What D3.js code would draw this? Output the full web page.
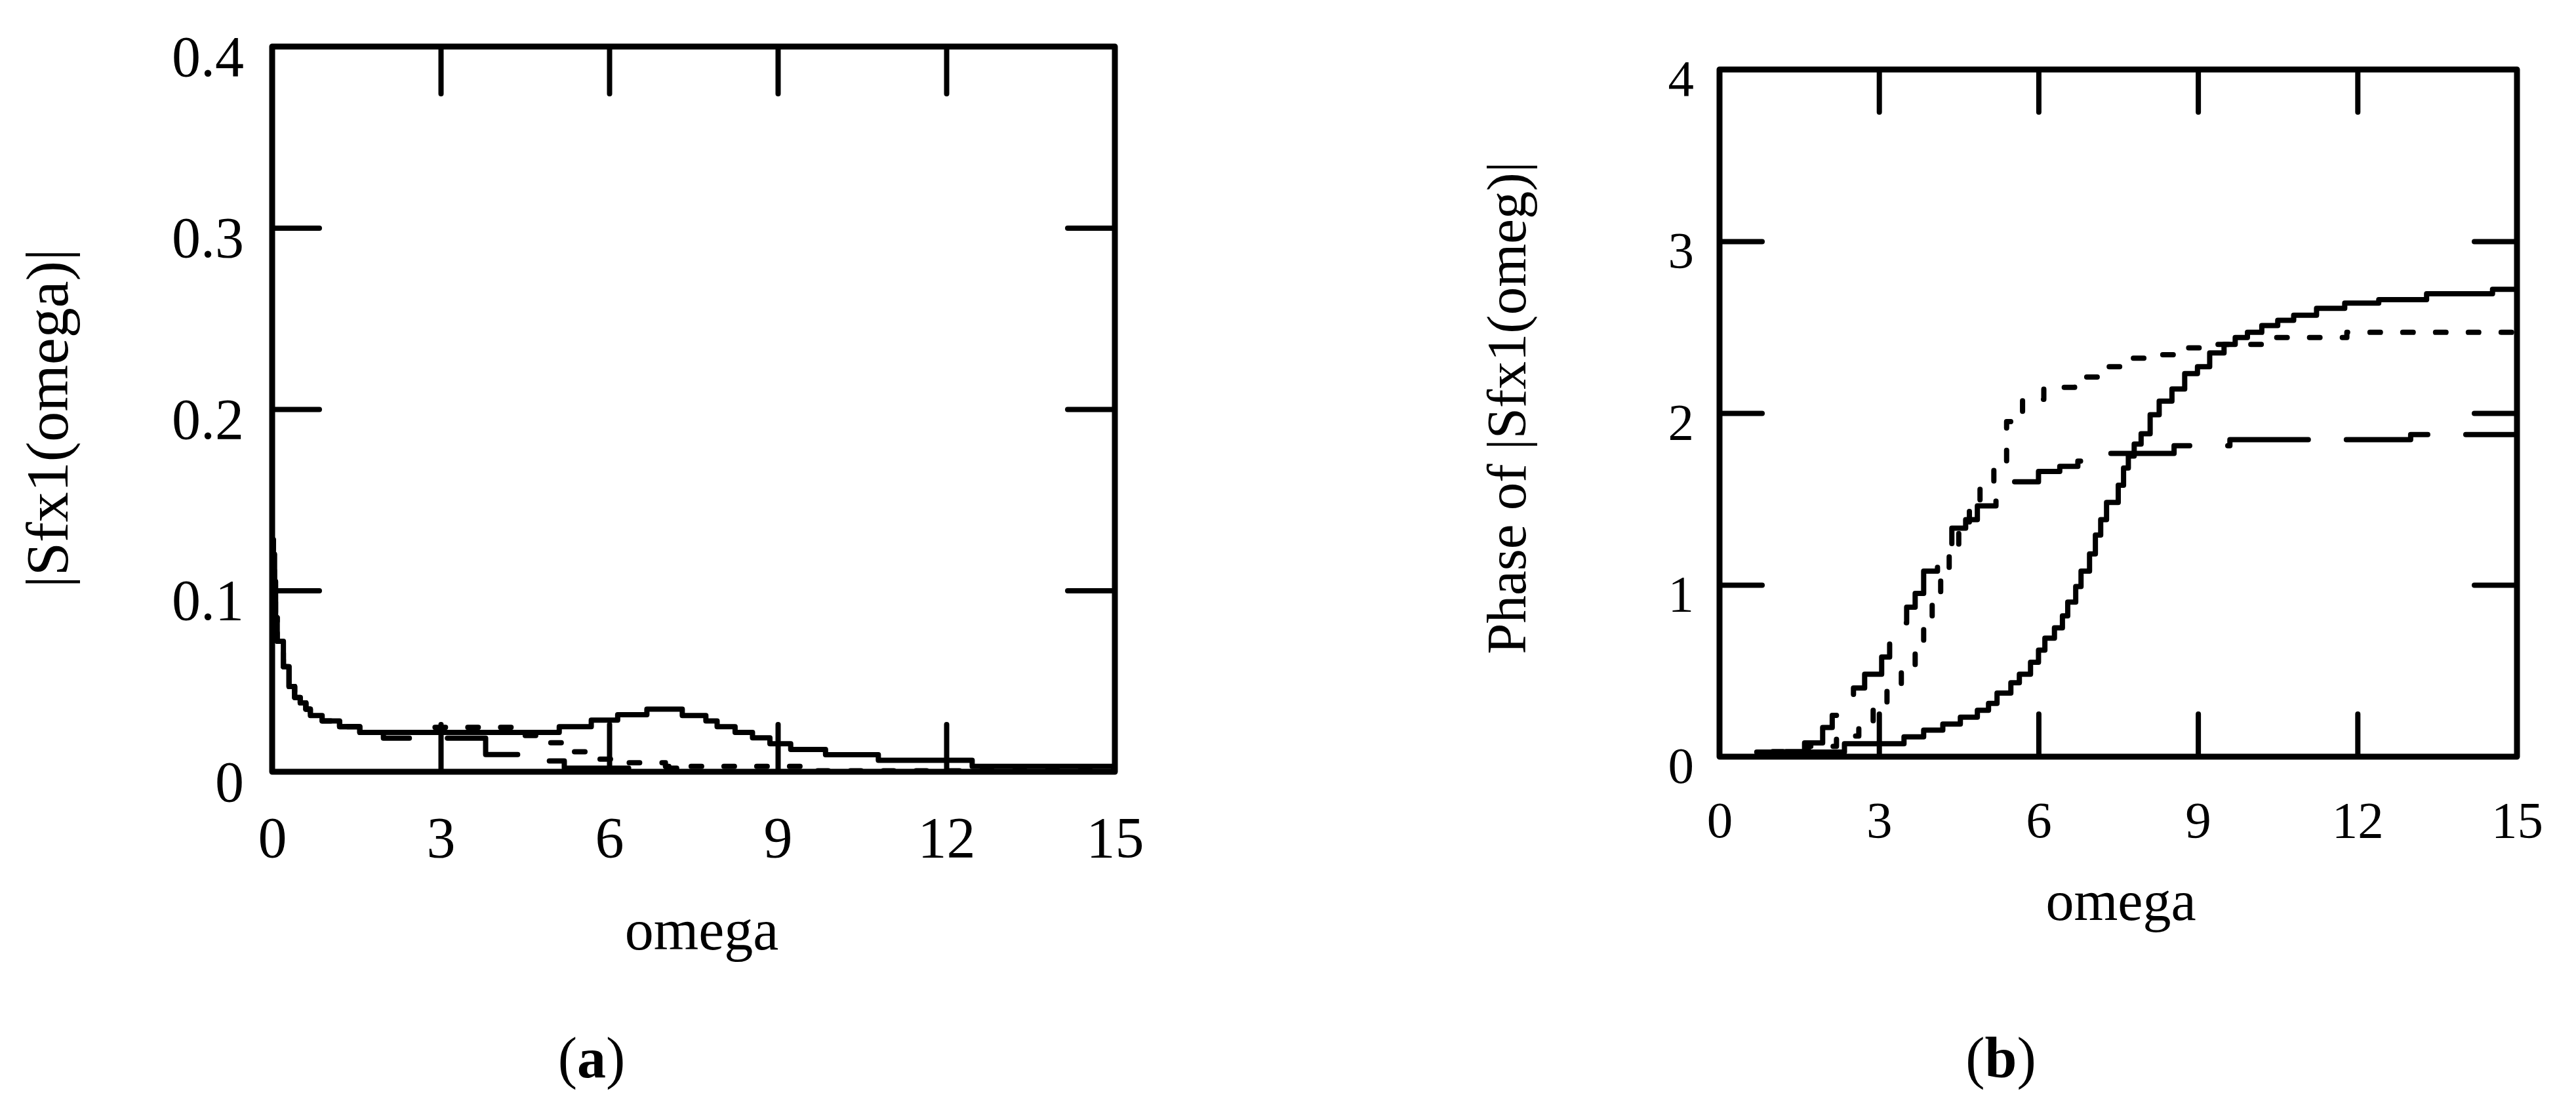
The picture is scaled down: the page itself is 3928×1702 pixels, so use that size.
<!DOCTYPE html>
<html>
<head>
<meta charset="utf-8">
<script src="https://cdn.jsdelivr.net/npm/d3@7"></script>
<style>
  body { margin: 0; background: #fff; }
  text { font-family: "Liberation Serif", "Times New Roman", serif; fill: #000; }
</style>
</head>
<body>
<svg id="chart" width="3928" height="1702"></svg>
<script>
// ---------------- DATA ----------------
// Panel (a): |Sfx1(omega)|
const xTickLabelsA = ["0", "3", "6", "9", "12", "15"];
const xTickValsA = [0, 3, 6, 9, 12, 15];
const yTickLabelsA = ["0", "0.1", "0.2", "0.3", "0.4"];
const yTickValsA = [0, 0.1, 0.2, 0.3, 0.4];

const solidA_omega = [0, 0.02, 0.04, 0.06, 0.09, 0.2, 0.3, 0.4, 0.5, 0.6, 0.68, 0.89, 1.2, 1.56, 5.11, 5.68, 6.15, 6.67, 7.3, 7.72, 7.92, 8.24, 8.55, 8.86, 9.23, 9.85, 10.79, 12.46, 15];
const solidA_value = [0.128, 0.12, 0.105, 0.085, 0.072, 0.058, 0.047, 0.041, 0.038, 0.0345, 0.031, 0.028, 0.0249, 0.0217, 0.0249, 0.0285, 0.0315, 0.0345, 0.031, 0.028, 0.0249, 0.0217, 0.0187, 0.0155, 0.0123, 0.0094, 0.0063, 0.003, 0.003];

const dottedA_omega = [0, 0.02, 0.04, 0.06, 0.09, 0.2, 0.3, 0.4, 0.5, 0.6, 0.68, 0.89, 1.2, 1.56, 2.6, 4.3, 4.8, 5.3, 5.7, 6.3, 7.0, 9.7, 15];
const dottedA_value = [0.128, 0.12, 0.105, 0.085, 0.072, 0.058, 0.047, 0.041, 0.038, 0.0345, 0.031, 0.028, 0.0249, 0.0217, 0.0245, 0.02, 0.016, 0.011, 0.007, 0.005, 0.003, 0.0005, 0.0005];

const dashedA_omega = [0, 0.02, 0.04, 0.06, 0.09, 0.2, 0.3, 0.4, 0.5, 0.6, 0.68, 0.89, 1.2, 1.56, 1.98, 3.8, 4.4, 5.2, 7.2, 15];
const dashedA_value = [0.128, 0.12, 0.105, 0.085, 0.072, 0.058, 0.047, 0.041, 0.038, 0.0345, 0.031, 0.028, 0.0249, 0.0217, 0.0185, 0.0095, 0.006, 0.002, 0, 0];

// Panel (b): Phase of |Sfx1(omeg)|
const xTickLabelsB = ["0", "3", "6", "9", "12", "15"];
const xTickValsB = [0, 3, 6, 9, 12, 15];
const yTickLabelsB = ["0", "1", "2", "3", "4"];
const yTickValsB = [0, 1, 2, 3, 4];

const solidB_omega = [0.7, 2.35, 3.47, 3.84, 4.2, 4.53, 4.85, 5.06, 5.22, 5.48, 5.64, 5.85, 6.0, 6.12, 6.3, 6.45, 6.55, 6.7, 6.8, 6.96, 7.07, 7.17, 7.28, 7.5, 7.6, 7.69, 7.8, 7.93, 8.1, 8.27, 8.51, 8.75, 8.99, 9.22, 9.49, 9.7, 9.93, 10.2, 10.5, 10.8, 11.23, 11.76, 12.4, 13.3, 14.54, 15];
const solidB_value = [0.027, 0.075, 0.115, 0.155, 0.19, 0.23, 0.27, 0.31, 0.37, 0.43, 0.48, 0.55, 0.62, 0.69, 0.75, 0.82, 0.9, 0.99, 1.08, 1.18, 1.29, 1.38, 1.48, 1.58, 1.68, 1.75, 1.82, 1.88, 1.99, 2.07, 2.14, 2.23, 2.27, 2.35, 2.40, 2.44, 2.47, 2.51, 2.54, 2.57, 2.61, 2.64, 2.66, 2.695, 2.72, 2.72];

const dottedB_omega = [1.0, 1.67, 2.2, 2.62, 2.89, 3.15, 3.42, 3.68, 3.84, 4.0, 4.16, 4.32, 4.5, 4.7, 4.9, 5.16, 5.4, 5.7, 6.1, 6.68, 7.16, 7.57, 8.1, 8.63, 9.16, 10.2, 11.8, 15];
const dottedB_value = [0.03, 0.06, 0.12, 0.2, 0.3, 0.39, 0.52, 0.62, 0.77, 0.89, 1.03, 1.18, 1.3, 1.45, 1.58, 1.72, 1.95, 2.08, 2.15, 2.21, 2.27, 2.32, 2.34, 2.38, 2.40, 2.44, 2.47, 2.47];

const dashedB_omega = [1.25, 1.6, 1.94, 2.12, 2.31, 2.52, 2.73, 3.05, 3.2, 3.37, 3.52, 3.68, 3.84, 4.1, 4.37, 4.63, 4.85, 5.2, 5.48, 6.0, 6.4, 6.74, 7.03, 8.55, 9.6, 13.0, 15];
const dashedB_value = [0.03, 0.08, 0.17, 0.24, 0.32, 0.4, 0.48, 0.58, 0.68, 0.78, 0.87, 0.95, 1.08, 1.22, 1.33, 1.38, 1.46, 1.56, 1.6, 1.66, 1.69, 1.72, 1.765, 1.81, 1.845, 1.875, 1.875];

// ---------------- DRAWING ----------------
const svg = d3.select("#chart");
svg.append("rect").attr("width", 3928).attr("height", 1702).attr("fill", "#fff");

const DOTTED = "16,34";
const DASHED = "132,58";

function drawPanel(cfg) {
  const g = svg.append("g");
  const x = cfg.x, y = cfg.y;
  const [x0, x1] = x.range();
  const [y0, y1] = y.range(); // y0 bottom, y1 top

  // curves
  cfg.series.forEach(s => {
    const line = d3.line()
      .x(d => x(d[0]))
      .y(d => y(d[1]))
      .curve(cfg.curve);
    g.append("path")
      .datum(d3.zip(s.omega, s.value))
      .attr("d", line)
      .attr("fill", "none")
      .attr("stroke", "#000")
      .attr("stroke-width", 8)
      .attr("stroke-linecap", "round")
      .attr("stroke-linejoin", "round")
      .attr("stroke-dasharray", s.dash || null);
  });

  // inward ticks (interior values only) on all four sides
  const styleTicks = sel => {
    sel.select(".domain").remove();
    sel.selectAll(".tick line")
      .attr("stroke", "#000")
      .attr("stroke-width", 8)
      .attr("stroke-linecap", "round");
    sel.selectAll(".tick text").remove();
  };
  g.append("g").attr("transform", `translate(0,${y0})`)
    .call(d3.axisBottom(x).tickValues(cfg.xInner).tickSize(-cfg.tickLen).tickFormat(""))
    .call(styleTicks);
  g.append("g").attr("transform", `translate(0,${y1})`)
    .call(d3.axisTop(x).tickValues(cfg.xInner).tickSize(-cfg.tickLen).tickFormat(""))
    .call(styleTicks);
  g.append("g").attr("transform", `translate(${x0},0)`)
    .call(d3.axisLeft(y).tickValues(cfg.yInner).tickSize(-cfg.tickLen).tickFormat(""))
    .call(styleTicks);
  g.append("g").attr("transform", `translate(${x1},0)`)
    .call(d3.axisRight(y).tickValues(cfg.yInner).tickSize(-cfg.tickLen).tickFormat(""))
    .call(styleTicks);

  // frame
  g.append("rect")
    .attr("x", x0).attr("y", y1)
    .attr("width", x1 - x0).attr("height", y0 - y1)
    .attr("fill", "none")
    .attr("stroke", "#000")
    .attr("stroke-width", 9)
    .attr("stroke-linejoin", "round");

  // tick labels
  const xl = g.append("g").attr("transform", `translate(0,${y0})`)
    .call(d3.axisBottom(x).tickValues(cfg.xTickVals).tickSize(0)
      .tickFormat((d, i) => cfg.xTickLabels[i]));
  xl.select(".domain").remove();
  xl.selectAll(".tick text")
    .attr("y", cfg.xLabelOffset).attr("dy", null)
    .attr("font-size", cfg.tickFont)
    .attr("font-family", "Liberation Serif")
    .attr("fill", "#000");

  const yl = g.append("g").attr("transform", `translate(${x0},0)`)
    .call(d3.axisLeft(y).tickValues(cfg.yTickVals).tickSize(0)
      .tickFormat((d, i) => cfg.yTickLabels[i]));
  yl.select(".domain").remove();
  yl.selectAll(".tick text")
    .attr("x", cfg.yLabelX).attr("dy", null)
    .attr("y", cfg.yLabelOffset)
    .attr("font-size", cfg.tickFont)
    .attr("font-family", "Liberation Serif")
    .attr("fill", "#000");

  // axis titles
  g.append("text")
    .attr("x", cfg.xTitle[0]).attr("y", cfg.xTitle[1])
    .attr("text-anchor", "middle")
    .attr("font-size", cfg.titleFont)
    .text("omega");
  g.append("text")
    .attr("transform", `translate(${cfg.yTitle[0]},${cfg.yTitle[1]}) rotate(-90)`)
    .attr("text-anchor", "middle")
    .attr("font-size", cfg.yTitleFont)
    .text(cfg.yTitleText);

  // panel caption
  const cap = g.append("text")
    .attr("x", cfg.caption[0]).attr("y", cfg.caption[1])
    .attr("text-anchor", "middle")
    .attr("font-size", 88);
  cap.append("tspan").text("(");
  cap.append("tspan").attr("font-weight", "bold").text(cfg.captionLetter);
  cap.append("tspan").text(")");
}

drawPanel({
  x: d3.scaleLinear().domain([0, 15]).range([415, 1700]),
  y: d3.scaleLinear().domain([0, 0.4]).range([1177, 71]),
  curve: d3.curveStepAfter,
  series: [
    { omega: solidA_omega, value: solidA_value },
    { omega: dottedA_omega, value: dottedA_value, dash: DOTTED },
    { omega: dashedA_omega, value: dashedA_value, dash: DASHED }
  ],
  xInner: [3, 6, 9, 12],
  yInner: [0.1, 0.2, 0.3],
  tickLen: 72,
  xTickVals: xTickValsA, xTickLabels: xTickLabelsA,
  yTickVals: yTickValsA, yTickLabels: yTickLabelsA,
  xLabelOffset: 130,
  yLabelX: -43,
  yLabelOffset: 44,
  tickFont: 88,
  titleFont: 88,
  xTitle: [1070, 1448],
  yTitle: [103, 638],
  yTitleFont: 92,
  yTitleText: "|Sfx1(omega)|",
  caption: [902, 1643],
  captionLetter: "a"
});

drawPanel({
  x: d3.scaleLinear().domain([0, 15]).range([2622, 3838]),
  y: d3.scaleLinear().domain([0, 4]).range([1154, 106]),
  curve: d3.curveStepAfter,
  series: [
    { omega: solidB_omega, value: solidB_value },
    { omega: dottedB_omega, value: dottedB_value, dash: DOTTED },
    { omega: dashedB_omega, value: dashedB_value, dash: DASHED }
  ],
  xInner: [3, 6, 9, 12],
  yInner: [1, 2, 3],
  tickLen: 65,
  xTickVals: xTickValsB, xTickLabels: xTickLabelsB,
  yTickVals: yTickValsB, yTickLabels: yTickLabelsB,
  xLabelOffset: 123,
  yLabelX: -39,
  yLabelOffset: 39,
  tickFont: 79,
  titleFont: 86,
  xTitle: [3234, 1403],
  yTitle: [2326, 622],
  yTitleFont: 85,
  yTitleText: "Phase of |Sfx1(omeg)|",
  caption: [3051, 1643],
  captionLetter: "b"
});
</script>
</body>
</html>
